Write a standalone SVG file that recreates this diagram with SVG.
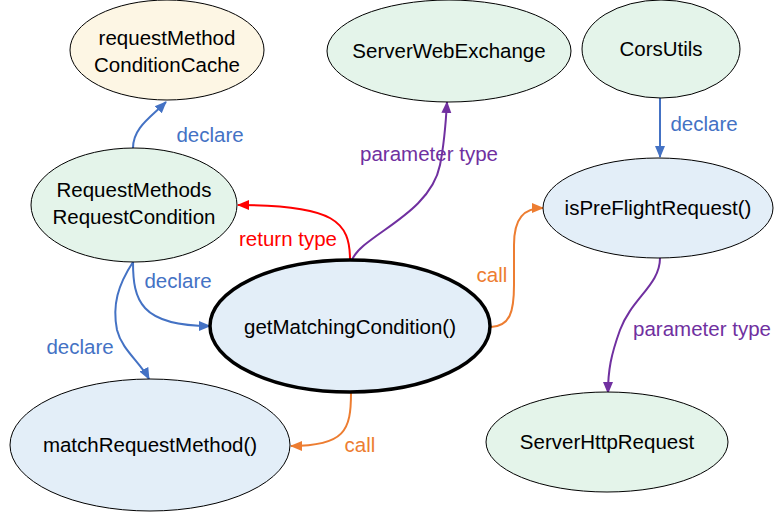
<svg xmlns="http://www.w3.org/2000/svg" width="774" height="518" viewBox="0 0 774 518">
<defs>
<style>
.n{stroke:#000;stroke-width:1}
.g{fill:#e4f4ea}.b{fill:#e3eef8}.c{fill:#fdf6e4}
.t{font-family:"Liberation Sans",Arial,sans-serif;font-size:20.5px;fill:#000;text-anchor:middle}
.l{font-family:"Liberation Sans",Arial,sans-serif;font-size:20.5px;text-anchor:middle}
.e{fill:none;stroke-width:2}
.blue{stroke:#4472c4}.red{stroke:#ff0000}.pur{stroke:#7030a0}.ora{stroke:#ed7d31}
</style>
<marker id="mb" markerWidth="12" markerHeight="12" refX="11" refY="6" orient="auto" markerUnits="userSpaceOnUse"><path d="M0,1 L12,6 L0,11 Z" fill="#4472c4"/></marker>
<marker id="mr" markerWidth="12" markerHeight="12" refX="11" refY="6" orient="auto" markerUnits="userSpaceOnUse"><path d="M0,1 L12,6 L0,11 Z" fill="#ff0000"/></marker>
<marker id="mp" markerWidth="12" markerHeight="12" refX="11" refY="6" orient="auto" markerUnits="userSpaceOnUse"><path d="M0,1 L12,6 L0,11 Z" fill="#7030a0"/></marker>
<marker id="mo" markerWidth="12" markerHeight="12" refX="11" refY="6" orient="auto" markerUnits="userSpaceOnUse"><path d="M0,1 L12,6 L0,11 Z" fill="#ed7d31"/></marker>
</defs>
<rect width="774" height="518" fill="#fff"/>
<g id="connectors">
<path class="e blue" d="M133,148 C133,128 150,118 166,102" marker-end="url(#mb)"/>
<path class="e red" d="M350,260 C350,222 335,205 238,205" marker-end="url(#mr)"/>
<path class="e pur" d="M352,260 C362,235 430,215 440,165 C444,145 446,120 447,102" marker-end="url(#mp)"/>
<path class="e blue" d="M660,98 L660,157" marker-end="url(#mb)"/>
<path class="e ora" d="M491,327 C510,326 514,312 514,285 L514,245 C514,218 524,208 543,208" marker-end="url(#mo)"/>
<path class="e pur" d="M660,258 C660,285 632,298 620,330 C611,355 608,370 608,393" marker-end="url(#mp)"/>
<path class="e blue" d="M133,262 C133,300 140,326 210,326" marker-end="url(#mb)"/>
<path class="e blue" d="M133,262 C118,285 112,305 117,330 C122,350 140,362 149,379" marker-end="url(#mb)"/>
<path class="e ora" d="M351,393 C351,430 345,446 291,446" marker-end="url(#mo)"/>
<text class="l" x="210" y="142" fill="#4472c4">declare</text>
<text class="l" x="288" y="246" fill="#ff0000">return type</text>
<text class="l" x="429" y="161" fill="#7030a0">parameter type</text>
<text class="l" x="704" y="131" fill="#4472c4">declare</text>
<text class="l" x="492" y="282" fill="#ed7d31">call</text>
<text class="l" x="702" y="336" fill="#7030a0">parameter type</text>
<text class="l" x="178" y="288" fill="#4472c4">declare</text>
<text class="l" x="80" y="354" fill="#4472c4">declare</text>
<text class="l" x="360" y="452" fill="#ed7d31">call</text>
</g>
<g id="requestMethodConditionCache"><ellipse class="n c" cx="167" cy="50" rx="97" ry="50"/><text class="t" x="167" y="45">requestMethod</text><text class="t" x="167" y="72">ConditionCache</text></g>
<g id="RequestMethodsRequestCondition"><ellipse class="n g" cx="134" cy="205" rx="103" ry="57"/><text class="t" x="134" y="197">RequestMethods</text><text class="t" x="134" y="224">RequestCondition</text></g>
<g id="ServerWebExchange"><ellipse class="n g" cx="449" cy="51" rx="122" ry="51"/><text class="t" x="449" y="58">ServerWebExchange</text></g>
<g id="CorsUtils"><ellipse class="n g" cx="661" cy="49" rx="79" ry="49"/><text class="t" x="661" y="56">CorsUtils</text></g>
<g id="isPreFlightRequest"><ellipse class="n b" cx="658" cy="208" rx="115" ry="50"/><text class="t" x="658" y="215">isPreFlightRequest()</text></g>
<g id="getMatchingCondition"><ellipse class="b" cx="350" cy="326" rx="140" ry="66" stroke="#000" stroke-width="3.5"/><text class="t" x="350" y="334">getMatchingCondition()</text></g>
<g id="matchRequestMethod"><ellipse class="n b" cx="150" cy="445" rx="140" ry="66"/><text class="t" x="150" y="452">matchRequestMethod()</text></g>
<g id="ServerHttpRequest"><ellipse class="n g" cx="607" cy="442" rx="121" ry="50"/><text class="t" x="607" y="449">ServerHttpRequest</text></g>
</svg>
